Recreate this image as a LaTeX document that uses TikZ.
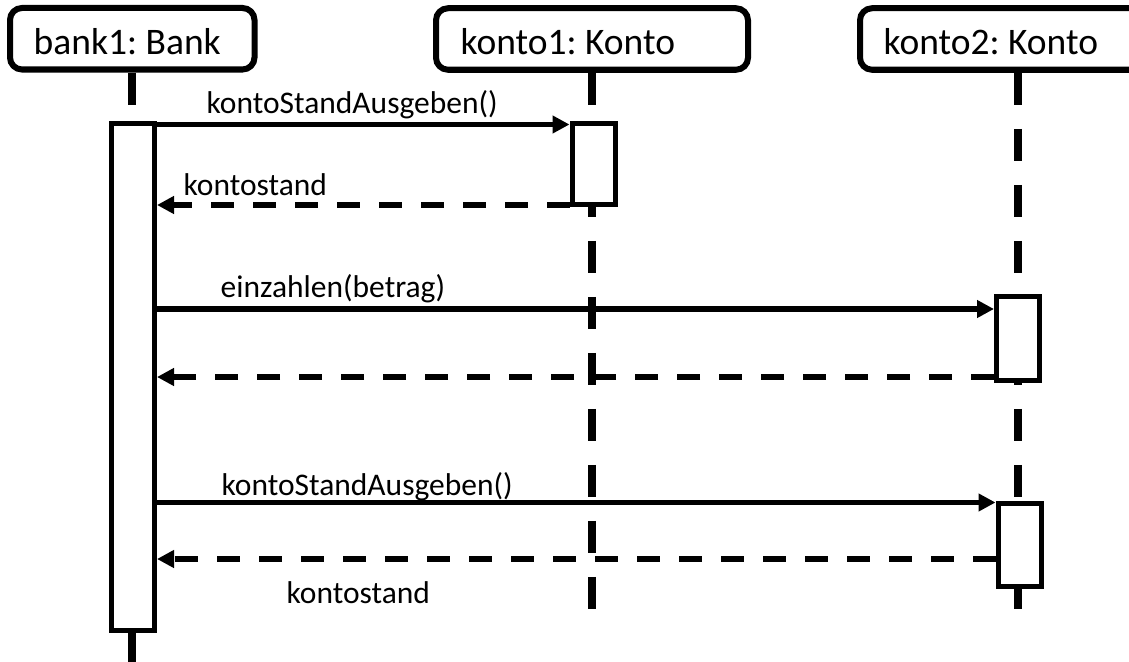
\documentclass[tikz,border=0pt]{standalone}
\usepackage{fontspec}
\setmainfont{Carlito}
\usetikzlibrary{arrows.meta}
\frenchspacing

\begin{document}
\begin{tikzpicture}[x=1pt,y=-1pt,
  header/.style={draw, line width=6pt, rounded corners=12pt, minimum height=61.5pt, inner sep=0pt},
  headtext/.style={anchor=base west, inner sep=0pt, font=\fontsize{37.5}{44}\selectfont},
  msgtext/.style={anchor=base west, inner sep=0pt, font=\fontsize{31.5}{38}\selectfont},
  lifeline/.style={line width=8pt, dash pattern=on 32pt off 24pt},
  activation/.style={draw, fill=white, line width=5pt, minimum width=43pt, inner sep=0pt},
  call/.style={line width=5.5pt, -{Triangle[length=17pt,width=17pt]}},
  reply/.style={call, dash pattern=on 23pt off 19pt},
]
% page frame
\useasboundingbox (0,0) rectangle (1129,661);
\clip (0,0) rectangle (1129,661);
\fill[white] (0,0) rectangle (1129,661);

% object headers
\node[header, minimum width=244.5pt] (bank) at (132.25,38.75) {};
\node[header, minimum width=312pt] (konto1) at (592,39) {};
\node[header, minimum width=316pt] (konto2) at (1018,39) {};
\node[headtext] (bankT) at (33.5,55) {bank1: Bank};
\node[headtext] (konto1T) at (460.5,55) {konto1: Konto};
\node[headtext] (konto2T) at (883.5,55) {konto2: Konto};

% lifelines
\coordinate (bankEnd) at (132.25,675);
\coordinate (konto1End) at (592,611);
\coordinate (konto2End) at (1018,614);
\draw[lifeline] (bank.south) -- (bankEnd);
\draw[lifeline] (konto1.south) -- (konto1End);
\draw[lifeline] (konto2.south) -- (konto2End);

% activation bars
\node[activation, minimum height=507pt] (bA) at (133,377) {};
\node[activation, minimum height=81.5pt] (k1A) at (593.5,163.75) {};
\node[activation, minimum height=84pt] (k2A) at (1018,338.5) {};
\node[activation, minimum height=83.5pt] (k2B) at (1019.5,544.75) {};

% message rows
\coordinate (m1) at (0,124.5);
\coordinate (m2) at (0,205);
\coordinate (m3) at (0,309);
\coordinate (m4) at (0,377);
\coordinate (m5) at (0,502.5);
\coordinate (m6) at (0,559);

\draw[call]  (bA.east |- m1) -- (k1A.west |- m1);
\draw[reply] (k1A.west |- m2) -- (bA.east |- m2);
\draw[call]  (bA.east |- m3) -- (k2A.west |- m3);
\draw[reply] (k2A.west |- m4) -- (bA.east |- m4);
\draw[call]  (bA.east |- m5) -- (k2B.west |- m5);
\draw[reply] (k2B.west |- m6) -- (bA.east |- m6);

% message labels
\node[msgtext] (t1) at (206.5,113) {kontoStandAusgeben()};
\node[msgtext] (t2) at (183.5,195) {kontostand};
\node[msgtext] (t3) at (220.5,297) {einzahlen(betrag)};
\node[msgtext] (t5) at (221.5,495) {kontoStandAusgeben()};
\node[msgtext] (t6) at (286.5,603) {kontostand};
\end{tikzpicture}
\end{document}
